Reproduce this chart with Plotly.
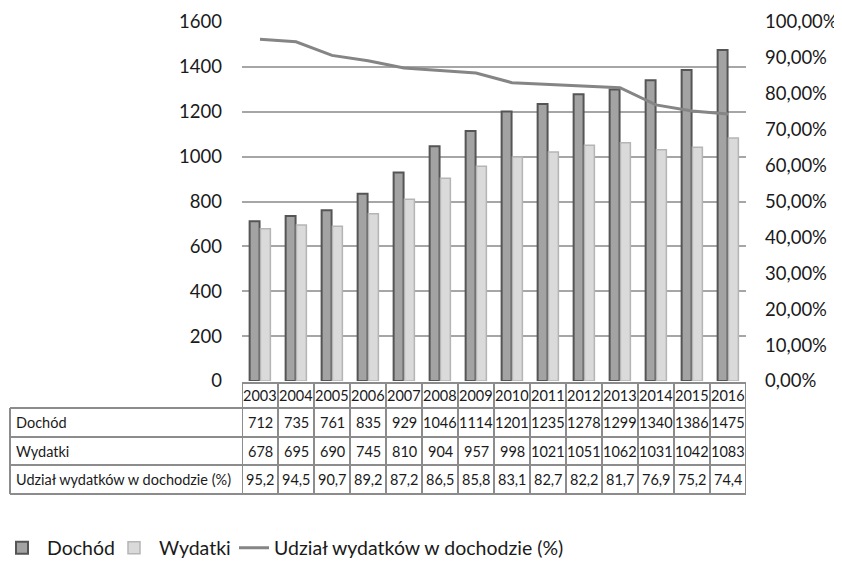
import plotly.graph_objects as go

years = ["2003","2004","2005","2006","2007","2008","2009","2010","2011","2012","2013","2014","2015","2016"]
dochod = [712,735,761,835,929,1046,1114,1201,1235,1278,1299,1340,1386,1475]
wydatki = [678,695,690,745,810,904,957,998,1021,1051,1062,1031,1042,1083]
udzial = [95.2,94.5,90.7,89.2,87.2,86.5,85.8,83.1,82.7,82.2,81.7,76.9,75.2,74.4]
row_labels = ["Dochód", "Wydatki", "Udział wydatków w dochodzie (%)"]

OFF = 8                      # default page margin of the html body
W, H = 842 - OFF, 566 - OFF
L, R, T, B = 242 - OFF, 746 - OFF, 22 - OFF, 381 - OFF   # plot area in figure pixels
FONT = "Lato"

def py(p):  # reference-pixel y -> paper y
    return (B - (p - OFF)) / (B - T)

def px(p):  # reference-pixel x -> paper x
    return ((p - OFF) - L) / (R - L)

fig = go.Figure()
fig.add_trace(go.Bar(x=years, y=dochod, name="Dochód", legend="legend",
                     marker=dict(color="#a3a3a3", line=dict(color="#555555", width=2))))
fig.add_trace(go.Bar(x=years, y=wydatki, name="Wydatki", legend="legend2",
                     marker=dict(color="#dadada", line=dict(color="#b5b5b5", width=1.5))))
fig.add_trace(go.Scatter(x=years, y=[v / 100 for v in udzial], name="Udział wydatków w dochodzie (%)",
                         legend="legend3", mode="lines", yaxis="y2", line=dict(color="#858585", width=3)))

shapes = []
annotations = []
grid_col = "#8c8c8c"
hdr_top, hdr_bot = 383, 408
row_bounds = [408, 437, 465, 494]
shapes.append(dict(type="line", xref="paper", yref="paper", x0=0, x1=1, y0=py(hdr_top), y1=py(hdr_top),
                   line=dict(color=grid_col, width=2)))
for rb in row_bounds:
    shapes.append(dict(type="line", xref="paper", yref="paper", x0=px(10), x1=1, y0=py(rb), y1=py(rb),
                       line=dict(color=grid_col, width=2)))
for i in range(len(years) + 1):
    shapes.append(dict(type="line", xref="x", yref="paper", x0=i - 0.5, x1=i - 0.5,
                       y0=py(hdr_top), y1=py(row_bounds[-1]), line=dict(color=grid_col, width=2)))
shapes.append(dict(type="line", xref="paper", yref="paper", x0=px(10), x1=px(10),
                   y0=py(row_bounds[0]), y1=py(row_bounds[-1]), line=dict(color=grid_col, width=2)))

tfont = dict(family=FONT, size=14.5, color="#1a1a1a")
rows = [[str(v) for v in dochod], [str(v) for v in wydatki], [f"{v:.1f}".replace(".", ",") for v in udzial]]
for j, y in enumerate(years):
    annotations.append(dict(x=j, xref="x", y=py((hdr_top + hdr_bot) / 2), yref="paper", text=y,
                            showarrow=False, font=tfont, xanchor="center", yanchor="middle"))
    for r in range(3):
        yc = (row_bounds[r] + row_bounds[r + 1]) / 2
        annotations.append(dict(x=j, xref="x", y=py(yc), yref="paper", text=rows[r][j],
                                showarrow=False, font=tfont, xanchor="center", yanchor="middle"))
for r in range(3):
    yc = (row_bounds[r] + row_bounds[r + 1]) / 2
    annotations.append(dict(x=px(14), xref="paper", y=py(yc), yref="paper", text=row_labels[r],
                            showarrow=False, font=tfont, xanchor="left", yanchor="middle"))

leg_common = dict(orientation="h", xanchor="left", yanchor="middle", y=py(548),
                  font=dict(family=FONT, size=19.5), bgcolor="rgba(0,0,0,0)")

fig.update_layout(
    width=W, height=H,
    margin=dict(l=L, r=W - R, t=T, b=H - B, pad=0, autoexpand=False),
    paper_bgcolor="white", plot_bgcolor="white",
    separators=", ",
    barmode="group", bargap=0.4, bargroupgap=0.08,
    font=dict(family=FONT, size=18, color="#1a1a1a"),
    xaxis=dict(type="category", range=[-0.5, len(years) - 0.5], showticklabels=False, showgrid=False,
               zeroline=False, showline=False, ticks="", automargin=False),
    yaxis=dict(range=[0, 1600], dtick=200, tickformat="d", showgrid=True, gridcolor="#a6a6a6",
               gridwidth=1.5, zeroline=False, showline=False, ticks="", ticklabelstandoff=19,
               automargin=False, tickfont=dict(family=FONT, size=18.5)),
    yaxis2=dict(range=[0, 1], dtick=0.1, tickformat=".2%", overlaying="y", side="right",
                showgrid=False, zeroline=False, showline=False, ticks="", ticklabelstandoff=18,
                automargin=False, tickfont=dict(family=FONT, size=18.5)),
    showlegend=True,
    legend=dict(x=px(-3), itemwidth=40, **leg_common),
    legend2=dict(x=px(109), itemwidth=40, **leg_common),
    legend3=dict(x=px(234), itemwidth=30, **leg_common),
    shapes=shapes, annotations=annotations,
)

fig.write_html("out.html")
